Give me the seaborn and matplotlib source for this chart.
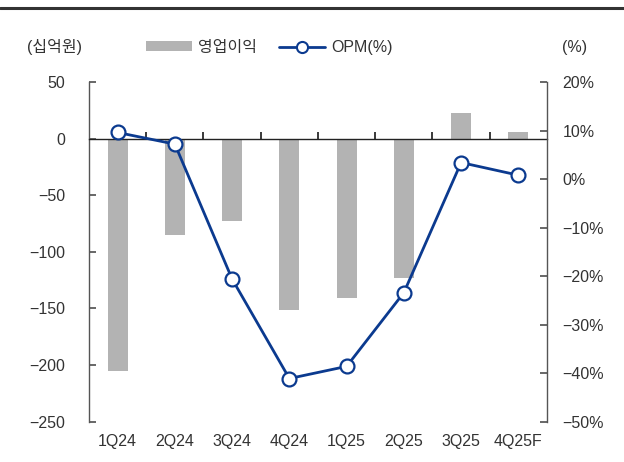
import numpy as np
import pandas as pd
import matplotlib
matplotlib.use('Agg')
import matplotlib.pyplot as plt
import seaborn as sns
from matplotlib.ticker import FuncFormatter
from matplotlib.patches import Patch
from matplotlib.lines import Line2D

quarters = ['1Q24', '2Q24', '3Q24', '4Q24', '1Q25', '2Q25', '3Q25', '4Q25F']
op_income = [-205, -85, -73, -151, -141, -123, 23, 6]
opm = [9.6, 7.2, -20.6, -41.1, -38.6, -23.4, 3.4, 0.8]
left_ticks = [50, 0, -50, -100, -150, -200, -250]
right_ticks = [20, 10, 0, -10, -20, -30, -40, -50]

BAR = '#b3b3b3'
LINE = '#0b3a8f'
TXT = '#333333'
SPINE = '#555555'
FS = 11.5

sns.set_theme(style='white')
plt.rcParams['font.family'] = ['Liberation Sans', 'Noto Sans CJK KR', 'DejaVu Sans']
plt.rcParams['axes.unicode_minus'] = True

fig = plt.figure(figsize=(6.24, 4.62), dpi=100)
ax = fig.add_axes([0.1426, 0.0872, 0.734, 0.7353])

df = pd.DataFrame({'q': quarters, 'v': op_income})
sns.barplot(data=df, x='q', y='v', ax=ax, color=BAR, width=0.35,
            saturation=1, linewidth=0)

ax2 = ax.twinx()
sns.lineplot(x=np.arange(len(quarters)), y=opm, ax=ax2, color=LINE, lw=2,
             marker='o', markersize=10, markerfacecolor='white',
             markeredgecolor=LINE, markeredgewidth=1.6, legend=False)

ax.set_xlim(-0.5, len(quarters) - 0.5)
ax.set_ylim(-250, 50)
ax2.set_ylim(-50, 20)
ax.set_xlabel('')
ax.set_ylabel('')
ax2.set_xlabel('')
ax2.set_ylabel('')

# spines
for s in ['top', 'right']:
    ax.spines[s].set_visible(False)
ax.spines['left'].set_color(SPINE)
ax.spines['left'].set_linewidth(1.0)
ax.spines['bottom'].set_position(('data', 0))
ax.spines['bottom'].set_color('#222222')
ax.spines['bottom'].set_linewidth(1.0)
for s in ['left', 'top', 'bottom']:
    ax2.spines[s].set_visible(False)
ax2.spines['right'].set_color(SPINE)
ax2.spines['right'].set_linewidth(1.0)

# x boundary ticks on the zero line
ax.set_xticks(np.arange(len(quarters) - 1) + 0.5)
ax.set_xticklabels([])
ax.tick_params(axis='x', direction='in', length=5, color='#222222', bottom=True)

# category labels at bottom
sec = ax.secondary_xaxis('bottom')
sec.set_xticks(np.arange(len(quarters)), labels=quarters)
sec.tick_params(length=0, pad=9, labelsize=FS, labelcolor=TXT)
sec.spines['bottom'].set_visible(False)

# y axes
ax.set_yticks(left_ticks)
ax.tick_params(axis='y', direction='in', length=5, pad=17, labelsize=FS,
               color=SPINE, labelcolor=TXT, left=True)
ax2.set_yticks(right_ticks)
ax2.yaxis.set_major_formatter(FuncFormatter(lambda v, p: f'{v:.0f}%'.replace('-', '\u2212')))
ax2.tick_params(axis='y', direction='in', length=5, pad=11, labelsize=FS,
                color=SPINE, labelcolor=TXT, right=True)
ax.grid(False)
ax2.grid(False)

# legend and unit labels
handles = [Patch(facecolor=BAR, edgecolor='none', label='영업이익'),
           Line2D([], [], color=LINE, lw=2, marker='o', markersize=8,
                  markerfacecolor='white', markeredgecolor=LINE,
                  markeredgewidth=1.5, label='OPM(%)')]
leg = fig.legend(handles=handles, loc='center', bbox_to_anchor=(0.431, 0.898),
                 ncol=2, frameon=False, handlelength=2.9, handleheight=0.5,
                 columnspacing=1.4, handletextpad=0.35, fontsize=FS)
for t in leg.get_texts():
    t.set_color(TXT)

fig.text(0.088, 0.898, '(십억원)', ha='center', va='center', fontsize=FS, color=TXT)
fig.text(0.921, 0.898, '(%)', ha='center', va='center', fontsize=FS, color=TXT)

fig.add_artist(Line2D([0, 1], [0.983, 0.983], transform=fig.transFigure,
                      color='#333333', lw=2.2))

fig.savefig('out.png', dpi=100)
